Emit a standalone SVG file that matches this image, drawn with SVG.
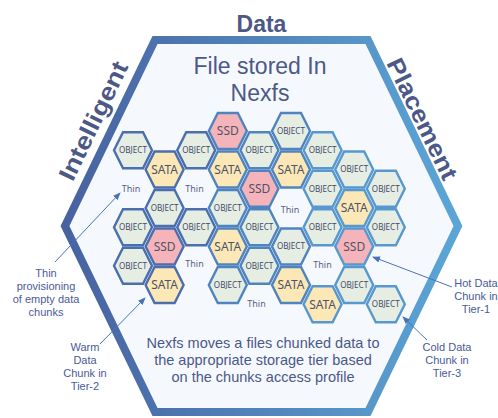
<svg xmlns="http://www.w3.org/2000/svg" xmlns:xlink="http://www.w3.org/1999/xlink" width="498" height="418" viewBox="0 0 498 418">
<defs>
<linearGradient id="bigStroke" gradientUnits="userSpaceOnUse" x1="65" y1="0" x2="458" y2="0">
<stop offset="0" stop-color="#4862a0"/>
<stop offset="1" stop-color="#5ba6d6"/>
</linearGradient>
<polygon id="hx" points="-19,0 -10,-18 10,-18 19,0 10,18 -10,18"/>
<marker id="ah" markerUnits="userSpaceOnUse" markerWidth="8" markerHeight="8" viewBox="0 0 8 8" refX="7" refY="4" orient="auto">
<path d="M0,0.8 L8,4 L0,7.2 Z" fill="#4a72b8"/>
</marker>
<style>
.obj{fill:#e6eee4}
.sata{fill:#fbe8b6}
.ssd{fill:#f5b4b9}
.s1{stroke:#4a6eae;stroke-width:2.4}
.s2{stroke:#4f84c0;stroke-width:2.4}
.s3{stroke:#5698cf;stroke-width:2.4}
.lo{font-family:"Noto Sans","Open Sans",sans-serif;font-size:8.1px;fill:#3f4a6a;text-anchor:middle}
.ls{font-family:"Noto Sans","Open Sans",sans-serif;font-size:12px;fill:#4f5268;text-anchor:middle}
.lt{font-family:"Noto Sans","Open Sans",sans-serif;font-size:9px;fill:#5a6282;text-anchor:middle}
.title{font-family:"Liberation Sans","Noto Sans",sans-serif;fill:#4c5886;text-anchor:middle}
.ann{font-family:"Liberation Sans","Noto Sans",sans-serif;font-size:11px;fill:#4a5a9a;text-anchor:middle}
.conn{stroke:#4a72b8;stroke-width:1;fill:none}
</style>
</defs>

<g id="frame">
<polygon points="155,40 368,40 458,226 368,412 155,412 65,226" fill="#f5f9fe" stroke="url(#bigStroke)" stroke-width="8"/>
<text class="title" x="261.5" y="31.5" font-size="23" font-weight="bold" font-family="Noto Sans, sans-serif">Data</text>
<text class="title" font-size="24" font-weight="bold" font-family="Noto Sans, sans-serif" transform="translate(93.5,121) rotate(-64.2)" y="8" textLength="129" lengthAdjust="spacingAndGlyphs">Intelligent</text>
<text class="title" font-size="24" font-weight="bold" font-family="Noto Sans, sans-serif" transform="translate(422,119) rotate(64.2)" y="8" textLength="132" lengthAdjust="spacingAndGlyphs">Placement</text>
<text class="title" x="260" y="74" font-size="23">File stored In</text>
<text class="title" x="260" y="101" font-size="23">Nexfs</text>
<text class="title" x="263" y="348" font-size="14.5">Nexfs moves a files chunked data to</text>
<text class="title" x="263" y="365" font-size="14.5">the appropriate storage tier based</text>
<text class="title" x="263" y="382" font-size="14.5">on the chunks access profile</text>
</g>

<g id="col0">
<g id="n0a"><use href="#hx" x="133" y="150.3" class="obj s1"/><text class="lo" x="133" y="153.2">OBJECT</text></g>
<g id="n0b"><text class="lt" x="131" y="192">Thin</text></g>
<g id="n0c"><use href="#hx" x="133" y="227.3" class="obj s1"/><text class="lo" x="133" y="230.2">OBJECT</text></g>
<g id="n0d"><use href="#hx" x="133" y="265.8" class="obj s1"/><text class="lo" x="133" y="268.7">OBJECT</text></g>
</g>
<g id="col1">
<g id="n1a"><use href="#hx" x="164.6" y="169.5" class="sata s1"/><text class="ls" x="164.6" y="173.7">SATA</text></g>
<g id="n1b"><use href="#hx" x="164.6" y="208" class="obj s1"/><text class="lo" x="164.6" y="210.9">OBJECT</text></g>
<g id="n1c"><use href="#hx" x="164.6" y="246.5" class="ssd s1"/><text class="ls" x="164.6" y="250.9" font-size="12.5">SSD</text></g>
<g id="n1d"><use href="#hx" x="164.6" y="285" class="sata s1"/><text class="ls" x="164.6" y="289.2">SATA</text></g>
</g>
<g id="col2">
<g id="n2a"><use href="#hx" x="196.2" y="150.3" class="obj s1"/><text class="lo" x="196.2" y="153.2">OBJECT</text></g>
<g id="n2b"><text class="lt" x="194.5" y="192">Thin</text></g>
<g id="n2c"><use href="#hx" x="196.2" y="227.3" class="obj s1"/><text class="lo" x="196.2" y="230.2">OBJECT</text></g>
<g id="n2d"><text class="lt" x="194.5" y="266.5">Thin</text></g>
</g>
<g id="col3">
<g id="n3a"><use href="#hx" x="227.8" y="131" class="ssd s2"/><text class="ls" x="227.8" y="135.4" font-size="12.5">SSD</text></g>
<g id="n3b"><use href="#hx" x="227.8" y="169.5" class="sata s2"/><text class="ls" x="227.8" y="173.7">SATA</text></g>
<g id="n3c"><use href="#hx" x="227.8" y="208" class="obj s2"/><text class="lo" x="227.8" y="210.9">OBJECT</text></g>
<g id="n3d"><use href="#hx" x="227.8" y="246.5" class="sata s2"/><text class="ls" x="227.8" y="250.7">SATA</text></g>
<g id="n3e"><use href="#hx" x="227.8" y="285" class="obj s2"/><text class="lo" x="227.8" y="287.9">OBJECT</text></g>
</g>
<g id="col4">
<g id="n4a"><use href="#hx" x="259.4" y="150.3" class="obj s2"/><text class="lo" x="259.4" y="153.2">OBJECT</text></g>
<g id="n4b"><use href="#hx" x="259.4" y="188.8" class="ssd s2"/><text class="ls" x="259.4" y="193.2" font-size="12.5">SSD</text></g>
<g id="n4c"><use href="#hx" x="259.4" y="227.3" class="obj s2"/><text class="lo" x="259.4" y="230.2">OBJECT</text></g>
<g id="n4d"><use href="#hx" x="259.4" y="265.8" class="obj s2"/><text class="lo" x="259.4" y="268.7">OBJECT</text></g>
<g id="n4e"><text class="lt" x="256.5" y="307">Thin</text></g>
</g>
<g id="col5">
<g id="n5a"><use href="#hx" x="291" y="131" class="obj s2"/><text class="lo" x="291" y="133.9">OBJECT</text></g>
<g id="n5b"><use href="#hx" x="291" y="169.5" class="sata s2"/><text class="ls" x="291" y="173.7">SATA</text></g>
<g id="n5c"><text class="lt" x="290" y="213">Thin</text></g>
<g id="n5d"><use href="#hx" x="291" y="246.5" class="obj s2"/><text class="lo" x="291" y="249.4">OBJECT</text></g>
<g id="n5e"><use href="#hx" x="291" y="285" class="sata s2"/><text class="ls" x="291" y="289.2">SATA</text></g>
</g>
<g id="col6">
<g id="n6a"><use href="#hx" x="322.6" y="150.3" class="obj s3"/><text class="lo" x="322.6" y="153.2">OBJECT</text></g>
<g id="n6b"><use href="#hx" x="322.6" y="188.8" class="obj s3"/><text class="lo" x="322.6" y="191.7">OBJECT</text></g>
<g id="n6c"><use href="#hx" x="322.6" y="227.3" class="obj s3"/><text class="lo" x="322.6" y="230.2">OBJECT</text></g>
<g id="n6d"><text class="lt" x="322.5" y="268">Thin</text></g>
<g id="n6e"><use href="#hx" x="322.6" y="304.3" class="sata s3"/><text class="ls" x="322.6" y="308.5">SATA</text></g>
</g>
<g id="col7">
<g id="n7a"><use href="#hx" x="354.2" y="169.5" class="obj s3"/><text class="lo" x="354.2" y="172.4">OBJECT</text></g>
<g id="n7b"><use href="#hx" x="354.2" y="208" class="sata s3"/><text class="ls" x="354.2" y="212.2">SATA</text></g>
<g id="n7c"><use href="#hx" x="354.2" y="246.5" class="ssd s3"/><text class="ls" x="354.2" y="250.9" font-size="12.5">SSD</text></g>
<g id="n7d"><use href="#hx" x="354.2" y="285" class="obj s3"/><text class="lo" x="354.2" y="287.9">OBJECT</text></g>
</g>
<g id="col8">
<g id="n8a"><use href="#hx" x="385.8" y="188.8" class="obj s3"/><text class="lo" x="385.8" y="191.7">OBJECT</text></g>
<g id="n8b"><use href="#hx" x="385.8" y="227.3" class="obj s3"/><text class="lo" x="385.8" y="230.2">OBJECT</text></g>
<g id="n8c"><use href="#hx" x="385.8" y="304.3" class="obj s3"/><text class="lo" x="385.8" y="307.2">OBJECT</text></g>
</g>

<g id="annotations">
<g id="ann-thin"><text class="ann" x="46" y="277">Thin</text><text class="ann" x="46" y="290">provisioning</text><text class="ann" x="46" y="303">of empty data</text><text class="ann" x="46" y="316">chunks</text></g>
<g id="ann-warm"><text class="ann" x="85" y="351">Warm</text><text class="ann" x="85" y="364">Data</text><text class="ann" x="85" y="377">Chunk in</text><text class="ann" x="85" y="390">Tier-2</text></g>
<g id="ann-hot"><text class="ann" x="476" y="287">Hot Data</text><text class="ann" x="476" y="300">Chunk in</text><text class="ann" x="476" y="313">Tier-1</text></g>
<g id="ann-cold"><text class="ann" x="447" y="351">Cold Data</text><text class="ann" x="447" y="364">Chunk in</text><text class="ann" x="447" y="377">Tier-3</text></g>
</g>

<g id="connectors">
<path class="conn" d="M55,262 L120,193" marker-end="url(#ah)"/>
<path class="conn" d="M100,344 L145,298" marker-end="url(#ah)"/>
<path class="conn" d="M452,287 L373,257" marker-end="url(#ah)"/>
<path class="conn" d="M427,340 L403,317" marker-end="url(#ah)"/>
</g>
</svg>
